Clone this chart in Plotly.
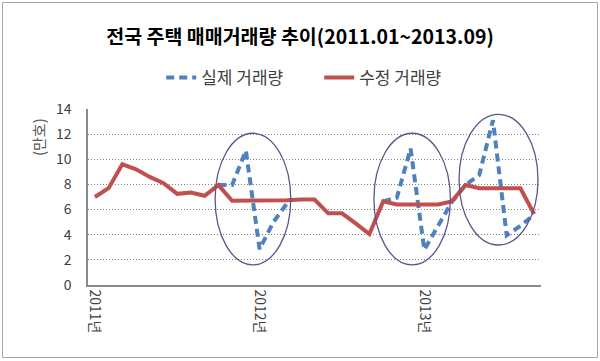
import plotly.graph_objects as go

# ---- data ----
months = [f"{y}.{m:02d}" for y in (2011, 2012, 2013) for m in range(1, 13)][:33]
revised = [7.0, 7.7, 9.6, 9.2, 8.6, 8.1, 7.25, 7.35, 7.1, 7.95, 6.7, 6.7,
           6.7, 6.7, 6.75, 6.8, 6.8, 5.7, 5.7, 4.9, 4.05, 6.65, 6.4, 6.4,
           6.4, 6.4, 6.65, 7.95, 7.7, 7.7, 7.7, 7.7, 5.65]
actual = [None, None, None, None, None, None, None, None, None, 7.95, 7.95, 10.7,
          2.85, 5.0, 6.5, None, None, None, None, None, None, 6.65, 6.95, 10.85,
          2.8, 4.7, 6.6, 7.95, 8.75, 13.1, 3.95, 4.7, 5.6]
tick_months = ["2011.01", "2012.01", "2013.01"]
tick_text = ["2011년", "2012년", "2013년"]
# highlight ellipses: (start idx, end idx, low value, high value)
ellipses = [(8.76, 14.27, 1.6, 12.07), (20.33, 25.9, 1.6, 12.07), (26.53, 32.28, 3.18, 13.58)]

xs = list(range(len(months)))
tickvals = [months.index(m) for m in tick_months]

W, H = 600, 361
ML, MR, MT, MB = 88, 59, 109, 76
pw, ph = W - ML - MR, H - MT - MB

FONT = "Noto Sans CJK KR"

fig = go.Figure()
fig.add_trace(go.Scatter(x=xs, y=actual, name="실제 거래량", mode="lines",
                         line=dict(color="#4F81BD", width=4, dash="8px,5px"),
                         connectgaps=False))
fig.add_trace(go.Scatter(x=xs, y=revised, name="수정 거래량", mode="lines",
                         line=dict(color="#C0504D", width=4)))

for x0, x1, y0, y1 in ellipses:
    fig.add_shape(type="circle", xref="x", yref="y", x0=x0, x1=x1, y0=y0, y1=y1,
                  line=dict(color="#5A5688", width=1.3), layer="above")

# outer border
fig.add_shape(type="rect", xref="paper", yref="paper",
              x0=(2.5 - ML) / pw, x1=(597.5 - ML) / pw,
              y0=(H - MB - 357.5) / ph, y1=(H - MB - 2.5) / ph,
              line=dict(color="#A6A6A6", width=1))

fig.add_annotation(text="(만호)", xref="paper", yref="paper",
                   x=(38 - ML) / pw, y=(H - MB - 137) / ph, textangle=-90,
                   xanchor="center", yanchor="middle",
                   showarrow=False, font=dict(family=FONT, size=15, color="#595959"))

fig.update_layout(
    template="none",
    width=W, height=H,
    margin=dict(l=ML, r=MR, t=MT, b=MB, autoexpand=False),
    paper_bgcolor="white", plot_bgcolor="white",
    title=dict(text="<b>전국 주택 매매거래량 추이(2011.01~2013.09)</b>",
               x=0.5, xref="container", xanchor="center",
               y=1 - 37 / H, yref="container", yanchor="middle",
               font=dict(family=FONT, size=19.5, color="#000000")),
    showlegend=True,
    legend=dict(orientation="h", x=0.532, xref="container", xanchor="center",
                y=1 - 78 / H, yref="container", yanchor="middle",
                font=dict(family=FONT, size=17, color="#404040"),
                entrywidth=113, entrywidthmode="pixels"),
    xaxis=dict(range=[-0.5, 32.5], tickmode="array", tickvals=tickvals, ticktext=tick_text,
               tickangle=90, showgrid=False, zeroline=False, automargin=False,
               showline=True, linecolor="#8C8C8C", linewidth=1.5,
               ticks="", tickfont=dict(family=FONT, size=14, color="#404040")),
    yaxis=dict(range=[0, 14], dtick=2, showgrid=True, gridcolor="#7F7F7F",
               griddash="1px,2px", gridwidth=1, zeroline=False, automargin=False,
               showline=True, linecolor="#8C8C8C", linewidth=1.5,
               ticks="outside", ticklen=12, tickcolor="rgba(0,0,0,0)",
               tickfont=dict(family=FONT, size=14, color="#404040")),
)

fig.write_html("out.html", config={"displayModeBar": False},
               post_script="document.body.style.margin='0';")
